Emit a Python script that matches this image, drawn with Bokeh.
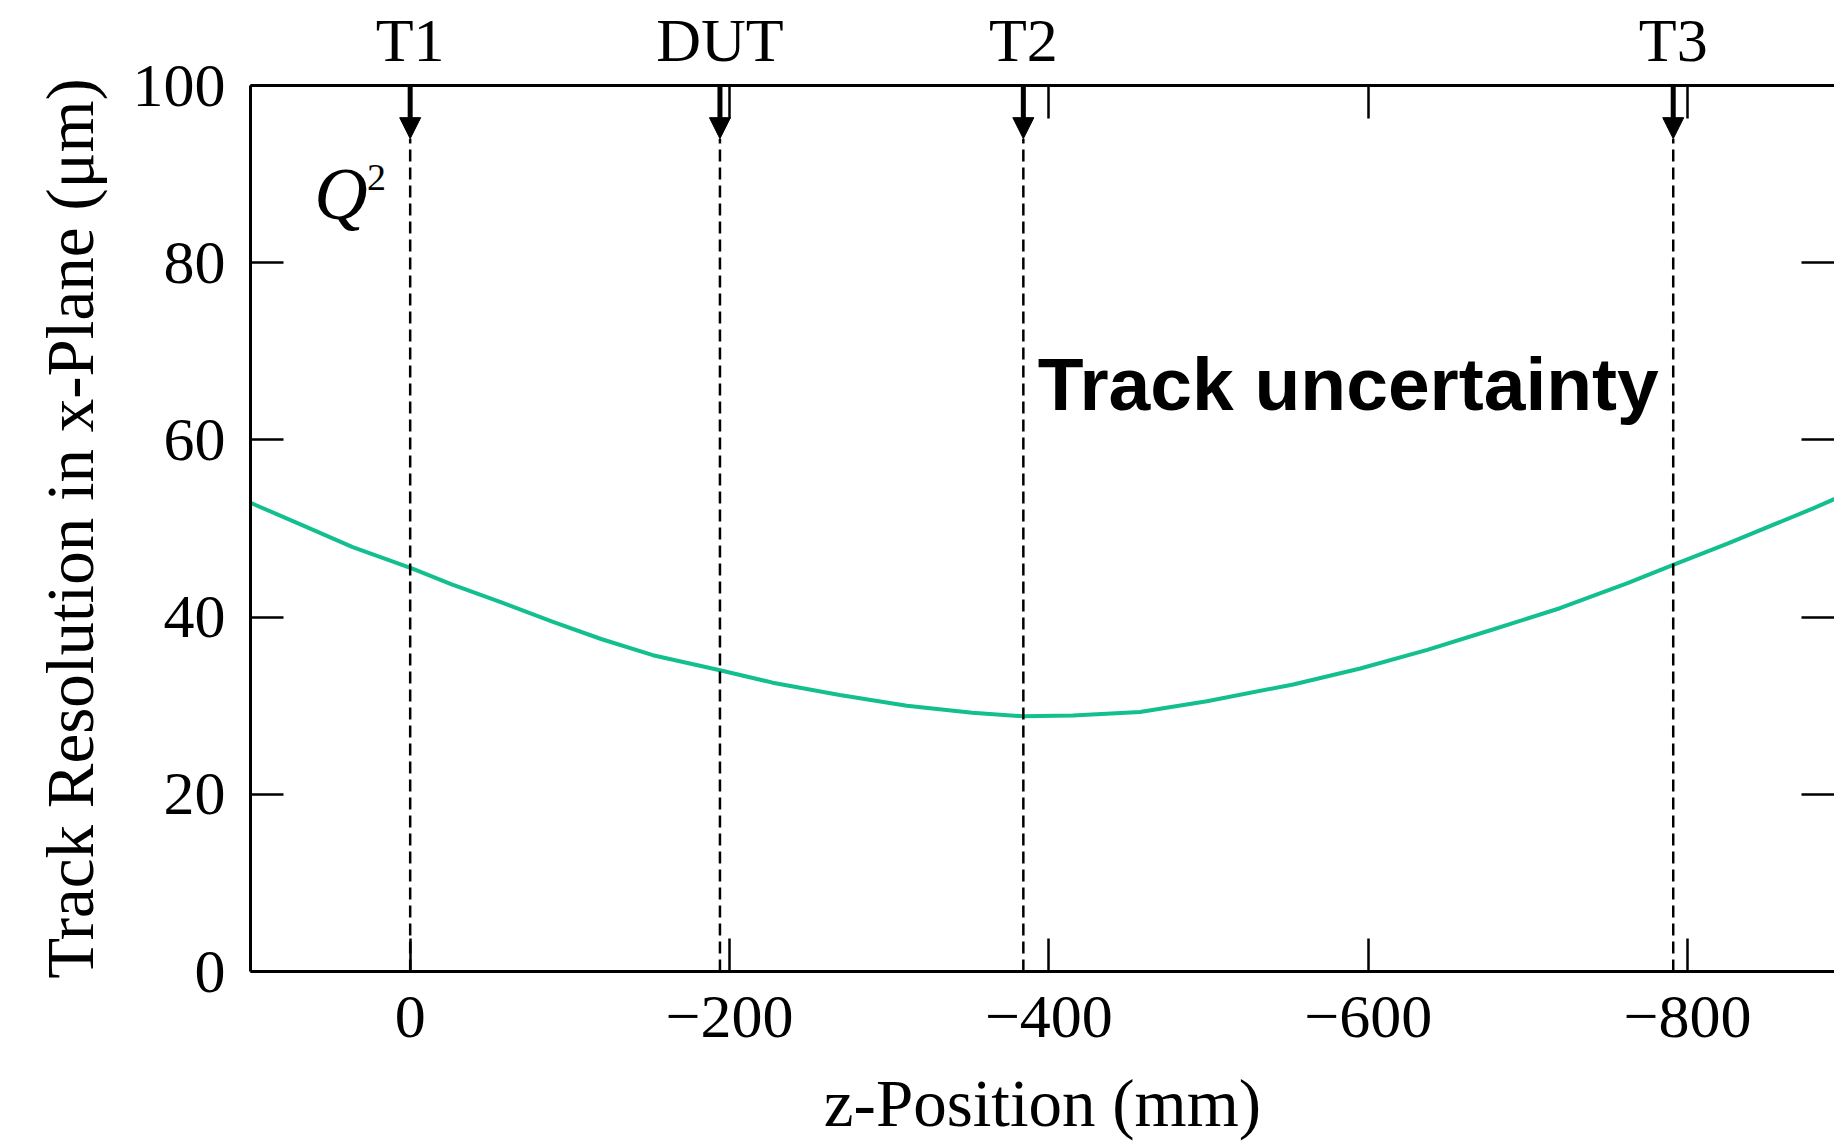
from bokeh.plotting import figure
from bokeh.models import (Range1d, LinearAxis, FixedTicker, Label, Arrow,
                          NormalHead, ColumnDataSource)
from bokeh.embed import file_html
from bokeh.resources import INLINE

# ---- data ----
z_pos = [100, 68, 36, -1, -26, -58, -89, -120, -152, -194, -227, -269, -311,
         -352, -384, -415, -457, -499, -553, -595, -637, -678, -720, -762,
         -791, -825, -879, -893]
resolution = [52.9, 50.4, 47.9, 45.5, 43.7, 41.6, 39.5, 37.5, 35.7, 34.0, 32.6,
              31.2, 30.0, 29.2, 28.8, 28.9, 29.3, 30.5, 32.4, 34.2, 36.3, 38.6,
              41.0, 43.8, 45.9, 48.3, 52.3, 53.4]
detector_names = ["T1", "DUT", "T2", "T3"]
detector_z = [0, -194, -384, -791]
x_ticks = [0, -200, -400, -600, -800]
y_ticks = [0, 20, 40, 60, 80, 100]
arrow_tip = 94.0

SERIF = "Liberation Serif"
GREEN = "#13bf8f"

p = figure(width=1834, height=1142,
           x_range=Range1d(100, -892), y_range=Range1d(0, 100),
           output_backend="svg", toolbar_location=None,
           min_border_left=250, min_border_top=85, min_border_bottom=170,
           min_border_right=0,
           x_axis_label="z-Position (mm)",
           y_axis_label="Track Resolution in x-Plane (μm)")
p.grid.visible = False
p.outline_line_color = None
p.background_fill_color = "white"
p.border_fill_color = "white"


def minus(t):
    return f"\u2212{abs(t)}" if t < 0 else str(t)


def style_axis(ax):
    ax.major_tick_in = 33
    ax.major_tick_out = 0
    ax.minor_tick_in = 0
    ax.minor_tick_out = 0
    ax.axis_line_width = 3
    ax.axis_line_color = "black"
    ax.major_tick_line_width = 2.5
    ax.major_tick_line_color = "black"
    ax.major_label_text_font = SERIF
    ax.major_label_text_font_size = "62px"
    ax.major_label_text_color = "black"
    ax.axis_label_text_font = SERIF
    ax.axis_label_text_font_size = "67px"
    ax.axis_label_text_font_style = "normal"
    ax.axis_label_text_color = "black"


xa = p.xaxis[0]
xa.ticker = FixedTicker(ticks=x_ticks)
xa.major_label_overrides = {t: minus(t) for t in x_ticks}
style_axis(xa)
xa.major_label_standoff = 25
xa.axis_label_standoff = 26

ya = p.yaxis[0]
ya.ticker = FixedTicker(ticks=y_ticks)
style_axis(ya)
ya.major_label_standoff = 25
ya.axis_label_standoff = 23

top_ticks = x_ticks + [d for d in detector_z if d not in x_ticks]
top_labels = {t: "" for t in top_ticks}
for name, d in zip(detector_names, detector_z):
    top_labels[d] = name
top = LinearAxis(ticker=FixedTicker(ticks=top_ticks),
                 major_label_overrides=top_labels)
style_axis(top)
top.major_label_standoff = 12
p.add_layout(top, "above")

right = LinearAxis(ticker=FixedTicker(ticks=y_ticks),
                   major_label_overrides={t: "" for t in y_ticks})
style_axis(right)
right.axis_line_color = None
right.major_label_standoff = 0
p.add_layout(right, "right")

# curve
p.line(z_pos, resolution, line_color=GREEN, line_width=4)

# detector dashed lines
det_src = ColumnDataSource(dict(z=detector_z,
                                y0=[0] * len(detector_z),
                                y1=[arrow_tip] * len(detector_z),
                                ytop=[100] * len(detector_z)))
p.segment(x0="z", y0="y0", x1="z", y1="y1", source=det_src,
          line_color="black", line_width=2.5, line_dash="12 6")

p.add_layout(Arrow(end=NormalHead(size=21, fill_color="black",
                                  line_color="black", line_width=1),
                   x_start="z", y_start="ytop", x_end="z", y_end="y1",
                   source=det_src, line_color="black", line_width=5))

# annotations
p.add_layout(Label(x=-393, y=66.3, text="Track uncertainty",
                   text_font="Liberation Sans", text_font_style="bold",
                   text_font_size="75px", text_color="black",
                   text_baseline="alphabetic", text_align="left"))
p.add_layout(Label(x=60, y=87.8, text="Q", text_font=SERIF,
                   text_font_style="italic", text_font_size="74px",
                   text_color="black", text_baseline="alphabetic"))
p.add_layout(Label(x=27, y=89.6, text="2", text_font=SERIF,
                   text_font_size="38px", text_color="black",
                   text_baseline="alphabetic"))

open("out.html", "w").write(file_html(p, INLINE))
